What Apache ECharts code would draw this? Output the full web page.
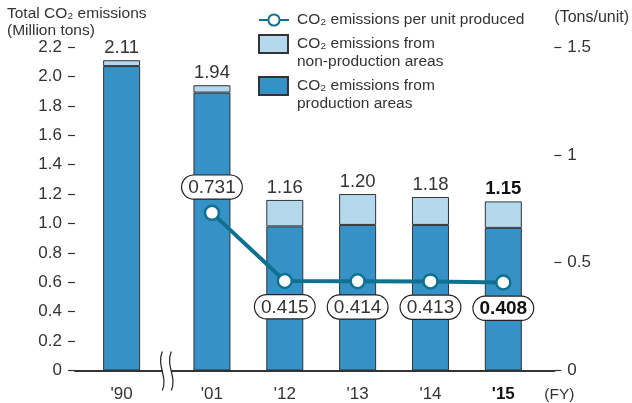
<!DOCTYPE html>
<html>
<head>
<meta charset="utf-8">
<script src="https://cdn.jsdelivr.net/npm/echarts@6/dist/echarts.min.js"></script>
<style>
  html, body { margin: 0; padding: 0; background: #fff; }
  #chart { width: 632px; height: 403px; }
</style>
</head>
<body>
<div id="chart"></div>
<script>
// Fiscal years shown on the horizontal axis
const fiscalYears = ["'90", "'01", "'12", "'13", "'14", "'15"];
// Total CO2 emissions (million tons), split by source
const productionAreas = [2.07, 1.89, 0.98, 0.99, 0.99, 0.97];
const nonProductionAreas = [0.04, 0.05, 0.18, 0.21, 0.19, 0.18];
const totalEmissions = [2.11, 1.94, 1.16, 1.20, 1.18, 1.15];
// CO2 emissions per unit produced (tons/unit); not reported for FY1990
const perUnit = [null, 0.731, 0.415, 0.414, 0.413, 0.408];
// Axis ticks
const leftTicks = [0, 0.2, 0.4, 0.6, 0.8, 1.0, 1.2, 1.4, 1.6, 1.8, 2.0, 2.2];
const rightTicks = [0, 0.5, 1, 1.5];

const INK = '#333';
const FONT = "'Liberation Sans', Arial, Helvetica, sans-serif";
const DARK_BLUE = '#3591C6';
const LIGHT_BLUE = '#B4D8EE';
const TEAL = '#0E7190';
const LAST = fiscalYears.length - 1;

// Extra spacing after the first year marks the broken time span
const BREAK_EXTRA = 0.24;
const slot = fiscalYears.map((_, i) => (i === 0 ? 0 : i + BREAK_EXTRA));
const yearAt = v => slot.findIndex(s => Math.abs(s - v) < 1e-6);

const labelBox = {
  backgroundColor: '#fff',
  borderColor: '#222',
  borderWidth: 1.2,
  borderRadius: 13,
  padding: [3, 6, 1, 6],
  fontSize: 19,
  color: INK,
  rich: { b: { fontSize: 19, fontWeight: 'bold', color: '#111' } }
};

const legendText = { fontSize: 15.5, color: INK, lineHeight: 18 };

const chart = echarts.init(document.getElementById('chart'), null, { renderer: 'canvas' });

chart.setOption({
  animation: false,
  textStyle: { fontFamily: FONT, color: INK },
  title: {
    text: 'Total CO₂ emissions\n(Million tons)',
    left: 7, top: 5, padding: 0,
    textStyle: { fontFamily: FONT, fontSize: 15.5, fontWeight: 'normal', color: INK, lineHeight: 17 }
  },
  legend: [
    {
      data: ['CO₂ emissions per unit produced'],
      left: 258, top: 11, padding: 0,
      itemWidth: 30, itemHeight: 14,
      textStyle: Object.assign({ padding: [0, 0, 0, 3] }, legendText),
      selectedMode: false
    },
    {
      data: ['CO₂ emissions from non-production areas'],
      left: 258, top: 17, padding: 0,
      itemWidth: 29, itemHeight: 18, icon: 'rect',
      // leading blank line keeps the first text line level with the swatch
      formatter: () => '\nCO₂ emissions from\nnon-production areas',
      textStyle: Object.assign({ padding: [0, 0, 0, 4] }, legendText),
      selectedMode: false
    },
    {
      data: ['CO₂ emissions from production areas'],
      left: 258, top: 59, padding: 0,
      itemWidth: 29, itemHeight: 18, icon: 'rect',
      formatter: () => '\nCO₂ emissions from\nproduction areas',
      textStyle: Object.assign({ padding: [0, 0, 0, 4] }, legendText),
      selectedMode: false
    }
  ],
  grid: { left: 75, right: 77, top: 47, bottom: 32.5, containLabel: false },
  xAxis: {
    type: 'value',
    min: -0.64, max: 5.94,
    splitLine: { show: false },
    axisTick: { show: false },
    axisLine: { show: true, onZero: false, lineStyle: { color: INK, width: 2 } },
    axisLabel: {
      customValues: slot,
      margin: 15,
      fontSize: 17,
      color: INK,
      formatter: v => {
        const i = yearAt(v);
        if (i < 0) return '';
        return i === LAST ? '{b|' + fiscalYears[i] + '}' : fiscalYears[i];
      },
      rich: { b: { fontSize: 17, fontWeight: 'bold', color: '#111' } }
    },
    name: '(FY)',
    nameLocation: 'end',
    nameGap: -10,
    nameTextStyle: { fontSize: 15.5, color: INK, align: 'left', verticalAlign: 'top', padding: [16, 0, 0, 0] }
  },
  yAxis: [
    {
      type: 'value',
      position: 'left',
      min: leftTicks[0], max: leftTicks[leftTicks.length - 1], interval: 0.2,
      splitLine: { show: false },
      axisLine: { show: false, onZero: false },
      axisTick: { show: true, length: 7, lineStyle: { color: INK, width: 1.2 } },
      axisLabel: {
        margin: 13, fontSize: 17, color: INK,
        formatter: v => (v === 0 ? '0' : v.toFixed(1))
      }
    },
    {
      type: 'value',
      position: 'right',
      min: rightTicks[0], max: rightTicks[rightTicks.length - 1], interval: 0.5,
      splitLine: { show: false },
      axisLine: { show: false, onZero: false },
      axisTick: { show: true, length: 7, lineStyle: { color: INK, width: 1.2 } },
      axisLabel: { margin: 13, fontSize: 17, color: INK },
      name: '(Tons/unit)',
      nameLocation: 'end',
      nameGap: 29,
      nameTextStyle: { fontSize: 16, color: INK, align: 'left', verticalAlign: 'middle' }
    }
  ],
  series: [
    {
      name: 'CO₂ emissions from production areas',
      type: 'bar',
      stack: 'total',
      barWidth: 37,
      // value first so the stack accumulates along the vertical axis
      encode: { x: 1, y: 0 },
      itemStyle: { color: DARK_BLUE, borderColor: INK, borderWidth: 1 },
      data: slot.map((x, i) => [productionAreas[i], x])
    },
    {
      name: 'CO₂ emissions from non-production areas',
      type: 'bar',
      stack: 'total',
      barWidth: 37,
      encode: { x: 1, y: 0 },
      itemStyle: { color: LIGHT_BLUE, borderColor: INK, borderWidth: 1 },
      label: {
        show: true,
        position: 'top',
        distance: 3,
        fontSize: 18.5,
        color: INK,
        formatter: p => {
          const t = totalEmissions[p.dataIndex].toFixed(2);
          return p.dataIndex === LAST ? '{b|' + t + '}' : t;
        },
        rich: { b: { fontSize: 18.5, fontWeight: 'bold', color: '#111' } }
      },
      data: slot.map((x, i) => [nonProductionAreas[i], x])
    },
    {
      name: 'CO₂ emissions per unit produced',
      type: 'line',
      yAxisIndex: 1,
      z: 5,
      symbol: 'circle',
      symbolSize: 14,
      lineStyle: { color: TEAL, width: 4 },
      itemStyle: { color: '#fff', borderColor: TEAL, borderWidth: 2.5 },
      label: Object.assign({
        show: true,
        distance: 6,
        formatter: p => {
          const t = p.value[1].toFixed(3);
          return p.dataIndex === LAST - 1 ? '{b|' + t + '}' : t;
        }
      }, labelBox),
      data: slot.map((x, i) => ({
        value: [x, perUnit[i]],
        label: { position: i === 1 ? 'top' : 'bottom' }
      })).filter(d => d.value[1] !== null)
    }
  ]
});

// Break marks on the time axis between the first and second years
function drawAxisBreak() {
  const bx = chart.convertToPixel({ xAxisIndex: 0 }, (slot[0] + slot[1]) / 2);
  const by = chart.convertToPixel({ yAxisIndex: 0 }, 0);
  const wave = dx => ({
    type: 'bezierCurve',
    shape: {
      x1: bx + dx, y1: by - 19,
      x2: bx + dx, y2: by + 20,
      cpx1: bx + dx - 6, cpy1: by - 4,
      cpx2: bx + dx + 6, cpy2: by + 6
    },
    style: { stroke: '#222', lineWidth: 1.2, fill: null },
    z: 20
  });
  chart.setOption({
    graphic: [
      { type: 'rect', shape: { x: bx - 4.5, y: by - 2, width: 9, height: 4 }, style: { fill: '#fff' }, z: 19 },
      wave(-4.5),
      wave(4.5)
    ]
  });
}
drawAxisBreak();
</script>
</body>
</html>
